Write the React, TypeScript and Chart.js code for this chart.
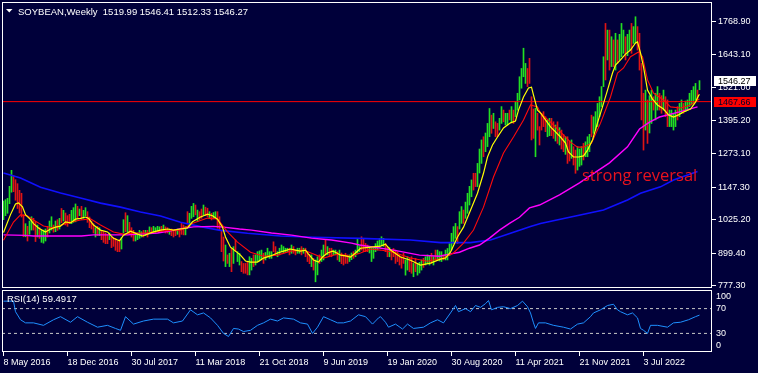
import React, { useEffect, useRef } from 'react';
import { Chart, registerables } from 'chart.js';

Chart.register(...registerables);

// ---------- DATA ----------
const symbolTitle = 'SOYBEAN,Weekly';
const lastOhlc = [1519.99, 1546.41, 1512.33, 1546.27];
const levelPrice = 1467.66;
const lastPrice = 1546.27;
const rsiLastValue = 59.4917;

const priceTicks = [1768.9, 1643.1, 1521.0, 1395.2, 1273.1, 1147.3, 1025.2, 899.4, 777.3];
const dateTickWeeks = [0, 32, 64, 96, 128, 160, 192, 224, 256, 288, 320];
const dateLabels = ['8 May 2016', '18 Dec 2016', '30 Jul 2017', '11 Mar 2018', '21 Oct 2018', '9 Jun 2019',
  '19 Jan 2020', '30 Aug 2020', '11 Apr 2021', '21 Nov 2021', '3 Jul 2022'];
const rsiLabelSpots = [90, 70, 30, 10];
const rsiTickLabels = ['100', '70', '30', '0'];
const rsiLevels = [70, 30];

// weekly bar lows / highs (one per week, 349 weeks)
const barLows = [
  1025, 1040, 1049, 1085, 1128, 1130, 1098, 1067, 1050, 1035,
  961, 961, 945, 970, 986, 986, 943, 960, 955, 940,
  937, 945, 960, 975, 986, 978, 980, 985, 990, 1014,
  1020, 1005, 1000, 1010, 1010, 1015, 1017, 1030, 1040, 1025,
  1030, 1040, 1015, 995, 990, 975, 960, 965, 965, 950,
  940, 935, 935, 950, 920, 925, 910, 905, 905, 915,
  975, 980, 980, 970, 960, 945, 945, 950, 955, 960,
  960, 965, 960, 972, 975, 975, 975, 980, 980, 978,
  985, 975, 975, 970, 965, 960, 965, 970, 960,
  970, 968, 968, 1011, 999, 1030, 1036, 1043, 1018, 1024,
  1030, 1043, 1040, 1036, 1030, 1024, 1028, 1030, 993, 986,
  905, 870, 849, 861, 849, 830, 861, 905, 868, 855,
  830, 824, 824, 818, 818, 836, 849, 855, 868, 870,
  874, 861, 874, 886, 880, 880, 905, 893, 886, 893,
  905, 899, 905, 905, 893, 899, 899, 893, 899, 899,
  893, 899, 886, 868, 860, 849, 836, 792, 818, 861,
  868, 874, 893, 893, 886, 886, 893, 893, 874, 868,
  860, 855, 861, 861, 868, 875, 880, 886, 899, 905,
  911, 905, 905, 905, 900, 868, 880, 905, 911, 920,
  930, 925, 905, 886, 886, 874, 886, 861, 868, 855,
  843, 861, 817, 836, 830, 824, 811, 830, 817, 825,
  836, 846, 855, 861, 855, 861, 855, 874, 874, 870,
  868, 874, 874, 874, 890, 911, 936, 955, 936, 990,
  1011, 1011, 1030, 1049, 1080, 1111, 1136, 1149, 1149, 1200,
  1236, 1261, 1280, 1299, 1336, 1349, 1367, 1336, 1336, 1361,
  1386, 1392, 1380, 1380, 1399, 1392, 1386, 1411, 1436, 1474,
  1518, 1561, 1536, 1524, 1536, 1324, 1330, 1261, 1361, 1305,
  1361, 1374, 1355, 1336, 1340, 1340, 1330, 1320, 1311, 1305,
  1290, 1280, 1270, 1236, 1245, 1255, 1230, 1199, 1211, 1225,
  1230, 1249, 1261, 1261, 1280, 1336, 1349, 1360, 1374, 1411,
  1449, 1524, 1549, 1624, 1586, 1599, 1599, 1586, 1611, 1624,
  1636, 1649, 1624, 1640, 1661, 1649, 1686, 1686, 1661, 1586,
  1399, 1286, 1361, 1311, 1350, 1386, 1436, 1399, 1436, 1436,
  1424, 1436, 1411, 1374, 1374, 1374, 1361, 1374, 1399, 1411,
  1424, 1424, 1430, 1436, 1449, 1455, 1461, 1474, 1474, 1512.33,
];
const barHighs = [
  1095, 1100, 1105, 1150, 1210, 1190, 1175, 1160, 1135, 1124,
  1044, 1010, 1000, 1020, 1036, 1030, 1017, 1005, 995, 985,
  986, 990, 1000, 1020, 1036, 1005, 1020, 1025, 1030, 1067,
  1060, 1050, 1040, 1045, 1060, 1070, 1084, 1075, 1065, 1075,
  1060, 1070, 1055, 1035, 1020, 1010, 995, 1000, 995, 985,
  980, 975, 970, 975, 960, 958, 955, 945, 950, 958,
  1025, 1051, 1040, 1015, 995, 985, 975, 975, 985, 980,
  985, 985, 985, 998, 995, 1000, 995, 1000, 998, 1000,
  1005, 998, 995, 990, 990, 985, 988, 990, 985,
  1011, 1005, 999, 1055, 1049, 1075, 1086, 1080, 1061, 1055,
  1065, 1080, 1072, 1068, 1055, 1049, 1052, 1055, 1055, 1036,
  986, 960, 930, 893, 899, 918, 924, 949, 905, 899,
  868, 861, 861, 868, 886, 880, 893, 893, 905, 908,
  911, 899, 902, 918, 905, 905, 942, 924, 905, 918,
  930, 924, 918, 918, 918, 930, 924, 911, 918, 918,
  924, 918, 918, 905, 895, 893, 880, 874, 886, 893,
  911, 930, 949, 924, 918, 918, 911, 911, 905, 911,
  900, 893, 899, 893, 893, 900, 905, 911, 955, 924,
  961, 955, 936, 930, 925, 918, 918, 935, 945, 955,
  961, 955, 936, 924, 920, 911, 917, 911, 905, 895,
  886, 899, 874, 886, 880, 886, 861, 880, 861, 865,
  874, 880, 886, 893, 890, 899, 886, 911, 911, 905,
  905, 893, 911, 917, 935, 974, 999, 1011, 999, 1055,
  1074, 1061, 1091, 1124, 1150, 1174, 1199, 1199, 1236, 1290,
  1324, 1336, 1350, 1386, 1442, 1417, 1424, 1392, 1386, 1405,
  1449, 1436, 1424, 1424, 1436, 1449, 1436, 1467, 1499, 1561,
  1592, 1668, 1611, 1592, 1630, 1486, 1440, 1443, 1424, 1374,
  1424, 1430, 1411, 1399, 1405, 1405, 1392, 1380, 1392, 1370,
  1361, 1345, 1336, 1336, 1320, 1324, 1299, 1286, 1299, 1290,
  1299, 1311, 1317, 1336, 1345, 1417, 1411, 1430, 1461, 1486,
  1524, 1636, 1761, 1736, 1736, 1711, 1699, 1724, 1699, 1720,
  1761, 1736, 1711, 1720, 1736, 1761, 1749, 1786, 1749, 1724,
  1611, 1499, 1511, 1474, 1490, 1511, 1486, 1499, 1524, 1499,
  1490, 1511, 1486, 1474, 1436, 1436, 1424, 1436, 1449, 1461,
  1474, 1461, 1470, 1474, 1499, 1510, 1524, 1536, 1511, 1546.41,
];
// u = up week (close above open), d = down week
const barDirections = [
  'uuuuuddddd', 'duduuddudu', 'uuduududud', 'uddduuudud', 'uuddddudud',
  'dddudddddu', 'ududdduuuu', 'dududuuuud', 'uddudddud',
  'dduduuudud', 'dudduduudd', 'ddudududuu', 'dddduuduuu', 'uduuuudduu',
  'uuuududduu', 'duddduduud', 'uududduudu', 'dddduuduuu',
  'dddduuuuuu', 'uudduddddd', 'dduudduduu', 'uduuududuu', 'uduuuuuudu',
  'uduuuudduu', 'uduuududdu', 'uduududuuu', 'uuuddddudd',
  'ddduuddudu', 'dduddudduu', 'uduuuduuuu', 'uududududu', 'uuduuduudd',
  'dduduuduud', 'dudduuuudu', 'uduuuuuudu',
];

// moving averages: [week, price]
const fastMaPoints = [
  [0, 977], [3.5, 1044], [6, 1084], [7.5, 1088], [9.5, 1073], [11, 1044], [13.5, 1025], [15, 1010],
  [17.5, 994], [21, 979], [23.5, 990], [26, 997], [28.5, 1001], [31, 1017], [33.5, 1013], [36, 1027],
  [38.5, 1030], [41, 1035], [42.5, 1030], [45, 1005], [48.5, 986], [52, 979], [55, 955], [58, 946],
  [60, 967], [63.5, 982], [67, 971], [69.5, 964], [72, 971], [75, 979], [78.5, 986], [82, 990],
  [85, 986], [88.5, 990], [92, 994], [94.5, 1017], [98.5, 1035], [102, 1046], [104.5, 1040], [107, 1027],
  [109.5, 997], [111, 960], [113.5, 922], [116, 907], [118.5, 892], [121, 870], [123.5, 866], [127, 866],
  [130, 881], [133.5, 889], [137, 900], [140, 907], [143.5, 915], [146, 911], [148.5, 907], [151, 911],
  [152.5, 896], [155, 874], [157.5, 866], [159.5, 885], [162, 900], [164.5, 907], [166, 903], [168.5, 892],
  [171, 889], [173.5, 885], [176, 900], [178.5, 918], [183.5, 922], [188.5, 926], [191, 933], [193.5, 911],
  [198.5, 885], [203.5, 873], [208.5, 855], [213.5, 862], [218.5, 877], [221, 881], [223.5, 903], [227, 960],
  [230, 997], [233.5, 1060], [237, 1124], [240, 1199], [242, 1260], [244.5, 1305], [247, 1335], [250, 1369],
  [253.5, 1388], [256, 1395], [257.5, 1436], [260, 1485], [262.5, 1519], [264, 1522], [265, 1492], [267, 1436],
  [268.5, 1425], [271, 1399], [273.5, 1373], [276, 1354], [278.5, 1335], [281, 1312], [282.5, 1279], [285, 1260],
  [287.5, 1260], [290, 1264], [292, 1286], [294.5, 1324], [297, 1388], [299.5, 1448], [302, 1511], [304.5, 1575],
  [306, 1605], [308.5, 1624], [311, 1646], [313.5, 1661], [316, 1688], [317, 1692], [318.5, 1650], [320, 1598],
  [322, 1511], [324.5, 1477], [327, 1455], [330, 1440], [332.5, 1418], [335, 1410], [337.5, 1418], [340, 1429],
  [343.5, 1440], [346, 1466], [347.5, 1490], [348, 1495],
];
const slowMaPoints = [
  [0, 948], [5, 1016], [8.5, 1043], [12, 1039], [15, 1024], [20, 1001], [25, 994], [32, 1013],
  [38.5, 1024], [43.5, 1028], [48.5, 1005], [55, 979], [60, 971], [65, 975], [72, 975], [78.5, 982],
  [85, 986], [88.5, 986], [95, 1013], [102, 1031], [107, 1028], [112, 979], [117, 941], [123.5, 903],
  [130, 888], [137, 892], [143.5, 907], [150, 911], [155, 896], [160, 881], [167, 896], [173.5, 888],
  [178.5, 900], [183.5, 915], [188.5, 911], [195, 903], [203.5, 881], [212, 869], [220, 881], [225, 900],
  [230, 937], [235, 986], [240, 1072], [245, 1185], [250, 1275], [255, 1335], [260, 1399], [263.5, 1455],
  [267, 1448], [268.5, 1425], [273.5, 1391], [278.5, 1354], [283.5, 1316], [287, 1297], [290, 1297], [294, 1312],
  [298.5, 1387], [303.5, 1485], [307, 1575], [310, 1594], [313.5, 1636], [317.5, 1654], [319.5, 1636], [322, 1549],
  [325, 1500], [330, 1474], [333.5, 1448], [338.5, 1444], [343.5, 1455], [348, 1478],
];
const mediumMaPoints = [
  [0, 968], [11, 966], [15, 964], [39, 964], [45, 968], [62, 968], [68, 971], [77, 975],
  [83, 982], [88, 990], [95, 998], [105, 1000], [110, 997], [118, 990], [124, 986], [134, 975],
  [144, 967], [154, 956], [164, 949], [174, 937], [178, 930], [195, 911], [208, 892], [218, 888],
  [223, 896], [228, 903], [233, 918], [238, 930], [243, 956], [248, 986], [253, 1011], [258, 1034],
  [263, 1069], [268, 1080], [278, 1118], [288, 1163], [303, 1238], [312, 1298], [318, 1365], [323, 1391],
  [328, 1410], [338, 1429], [347, 1448],
];
const longMaPoints = [
  [0, 1200], [8.5, 1181], [18.5, 1147], [28.5, 1125], [38.5, 1106], [48.5, 1087], [58.5, 1072], [68.5, 1054],
  [78.5, 1039], [88.5, 1015], [98.5, 999], [108.5, 985], [122, 974], [138.5, 964], [155, 959], [178.5, 955],
  [203.5, 949], [218.5, 939], [233.5, 939], [243.5, 949], [253.5, 974], [263.5, 999], [268.5, 1011], [300, 1061],
  [312, 1099], [318.5, 1124], [328.5, 1148], [335, 1174], [347, 1206],
];
const rsiPoints = [
  [0, 82], [5, 82], [6, 65], [8.5, 52], [11, 47], [15, 47], [20, 43], [25, 52], [28.5, 57], [33.5, 48],
  [37, 57], [42, 48], [47, 40], [52, 43], [56, 38], [58.5, 35], [61, 57], [65, 45], [70, 50], [75, 53],
  [82, 53], [85, 47], [89.5, 50], [93.5, 68], [97, 60], [100, 63], [103.5, 55], [107, 43], [110, 30], [112.5, 25],
  [115, 38], [117.5, 37], [120, 33], [123.5, 35], [127, 43], [130, 47], [133.5, 53], [137, 50], [140, 55], [145, 53],
  [148.5, 47], [152, 45], [154.5, 30], [157, 40], [160, 57], [163.5, 52], [167, 47], [170, 47], [173.5, 50], [177.5, 60],
  [181, 57], [184.5, 45], [187.5, 55], [188.5, 57], [191, 48], [192.5, 40], [196, 45], [199.5, 37], [202, 45], [205, 38],
  [210, 40], [213.5, 47], [217, 52], [220, 47], [223.5, 63], [226, 75], [227.5, 65], [231, 70], [233.5, 65], [236, 75],
  [238.5, 72], [241, 78], [242.5, 83], [244, 68], [247, 72], [250, 73], [253.5, 70], [257, 75], [259.5, 82], [262, 73],
  [263.5, 63], [265, 47], [266, 38], [267.5, 47], [271, 47], [275, 43], [280, 40], [283.5, 37], [287, 45], [290, 47],
  [293.5, 57], [295, 63], [298.5, 68], [302, 75], [305, 77], [307, 68], [308.5, 65], [312, 60], [314.5, 63], [317, 55],
  [318.5, 38], [320, 35], [322, 30], [323.5, 43], [327, 43], [332, 40], [335, 47], [338.5, 48], [342.5, 52], [346, 57],
  [348, 59.49],
];

// ---------- STYLE ----------
const BG = '#00003a';
const FONT = 'Liberation Sans, Arial, sans-serif';
const UP = '#22e022';
const DOWN = '#e01414';

export default function App() {
  const mainRef = useRef<HTMLCanvasElement>(null);
  const rsiRef = useRef<HTMLCanvasElement>(null);

  useEffect(() => {
    const xMin = -0.75;
    const xMax = 354.25;
    const toXY = (pts: number[][]) => pts.map(([x, y]) => ({ x, y }));
    const dirs = barDirections.join('');
    const bars = barLows.map((lo, i) => ({ x: i, y: [lo, barHighs[i]] }));
    const barColors = barLows.map((_, i) => (dirs[i] === 'd' ? DOWN : UP));

    const bgPlugin = {
      id: 'bg',
      beforeDraw(chart: any) {
        const { ctx, width, height } = chart;
        ctx.save();
        ctx.fillStyle = BG;
        ctx.fillRect(0, 0, width, height);
        ctx.restore();
      },
      afterDraw(chart: any) {
        const { ctx, chartArea: a } = chart;
        ctx.save();
        ctx.strokeStyle = '#ffffff';
        ctx.lineWidth = 1;
        ctx.strokeRect(a.left + 0.5, a.top + 0.5, a.right - a.left - 1, a.bottom - a.top - 1);
        ctx.restore();
      },
    };

    const mainText = {
      id: 'mainText',
      afterDraw(chart: any) {
        const { ctx } = chart;
        const y = chart.scales.y;
        ctx.save();
        ctx.fillStyle = '#ffffff';
        ctx.beginPath();
        ctx.moveTo(6, 9);
        ctx.lineTo(12.5, 9);
        ctx.lineTo(9.25, 12.5);
        ctx.closePath();
        ctx.fill();
        ctx.font = `9.5px ${FONT}`;
        ctx.textBaseline = 'alphabetic';
        ctx.textAlign = 'left';
        ctx.fillText(`${symbolTitle}  ${lastOhlc.map((v) => v.toFixed(2)).join(' ')}`, 18, 14.5);
        ctx.fillStyle = '#e8121e';
        ctx.font = `16.5px "Open Sans", ${FONT}`;
        ctx.fillText('strong reversal', 582, 181);
        const boxes: [number, string, string][] = [
          [lastPrice, '#ffffff', '#000000'],
          [levelPrice, '#ff0000', '#00002a'],
        ];
        ctx.font = `9px ${FONT}`;
        ctx.textBaseline = 'middle';
        for (const [v, bg, fg] of boxes) {
          const py = y.getPixelForValue(v);
          ctx.fillStyle = bg;
          ctx.fillRect(714, Math.round(py - 5), 42, 10);
          ctx.fillStyle = fg;
          ctx.fillText(v.toFixed(2), 718, Math.round(py - 5) + 5.5);
        }
        ctx.restore();
      },
    };

    const rsiText = {
      id: 'rsiText',
      afterDraw(chart: any) {
        const { ctx } = chart;
        ctx.save();
        ctx.fillStyle = '#ffffff';
        ctx.font = `9.5px ${FONT}`;
        ctx.textBaseline = 'alphabetic';
        ctx.textAlign = 'left';
        ctx.fillText(`RSI(14) ${rsiLastValue.toFixed(4)}`, 7, 13);
        ctx.restore();
      },
    };

    const lineDs = (label: string, pts: number[][], color: string, width: number, order: number) => ({
      type: 'line' as const,
      label,
      data: toXY(pts),
      borderColor: color,
      borderWidth: width,
      pointRadius: 0,
      tension: 0,
      fill: false,
      order,
    });

    const main = new Chart(mainRef.current!, {
      type: 'bar',
      data: {
        datasets: [
          lineDs('fast MA', fastMaPoints, '#ffff00', 1.2, 1),
          lineDs('slow MA', slowMaPoints, '#ff0a0a', 1.1, 2),
          lineDs('medium MA', mediumMaPoints, '#ff00ff', 1.4, 3),
          lineDs('long MA', longMaPoints, '#1010ff', 1.6, 4),
          lineDs('level', [[xMin, levelPrice], [xMax, levelPrice]], '#ff0000', 1, 5),
          {
            type: 'bar',
            label: 'weekly range',
            data: bars as any,
            backgroundColor: barColors,
            borderWidth: 0,
            barThickness: 1,
            order: 6,
          },
        ] as any,
      },
      options: {
        responsive: false,
        animation: false,
        devicePixelRatio: 1,
        events: [],
        layout: { padding: { left: 2, top: 2, right: 0, bottom: 1 } },
        plugins: { legend: { display: false }, tooltip: { enabled: false } },
        scales: {
          x: { type: 'linear', min: xMin, max: xMax, offset: false, display: false },
          y: {
            type: 'linear',
            position: 'right',
            min: 768.8,
            max: 1841.3,
            afterBuildTicks: (axis: any) => {
              axis.ticks = priceTicks.map((v) => ({ value: v }));
            },
            afterFit: (axis: any) => {
              axis.width = 46;
              axis.paddingTop = 0;
              axis.paddingBottom = 0;
            },
            ticks: {
              color: '#ffffff',
              font: { size: 9, family: FONT },
              padding: 2,
              autoSkip: false,
              callback: (v: any) => Number(v).toFixed(2),
            },
            grid: { drawOnChartArea: false, drawTicks: true, tickLength: 4, color: '#ffffff' },
            border: { display: false },
          },
        },
      } as any,
      plugins: [bgPlugin, mainText],
    });

    const rsi = new Chart(rsiRef.current!, {
      type: 'line',
      data: {
        datasets: [
          lineDs('RSI(14)', rsiPoints, '#1e90ff', 1, 1),
          ...rsiLevels.map((lv, k) => ({
            ...lineDs(`level ${lv}`, [[xMin, lv], [xMax, lv]], '#c8c8c8', 1, 2 + k),
            borderDash: [3, 3],
          })),
        ] as any,
      },
      options: {
        responsive: false,
        animation: false,
        devicePixelRatio: 1,
        events: [],
        layout: { padding: { left: 2, top: 1, right: 0, bottom: 0 } },
        plugins: { legend: { display: false }, tooltip: { enabled: false } },
        scales: {
          x: {
            type: 'linear',
            min: xMin,
            max: xMax,
            offset: false,
            afterBuildTicks: (axis: any) => {
              axis.ticks = dateTickWeeks.map((v) => ({ value: v }));
            },
            afterFit: (axis: any) => {
              axis.height = 21;
              axis.paddingLeft = 0;
              axis.paddingRight = 0;
            },
            ticks: {
              color: '#ffffff',
              font: { size: 9, family: FONT },
              align: 'start',
              autoSkip: false,
              maxRotation: 0,
              padding: 1,
              callback: (_v: any, i: number) => dateLabels[i],
            },
            grid: { drawOnChartArea: false, drawTicks: true, tickLength: 4, color: '#ffffff' },
            border: { display: false },
          },
          y: {
            type: 'linear',
            position: 'right',
            min: 0,
            max: 100,
            afterBuildTicks: (axis: any) => {
              axis.ticks = rsiLabelSpots.map((v) => ({ value: v }));
            },
            afterFit: (axis: any) => {
              axis.width = 46;
              axis.paddingTop = 0;
              axis.paddingBottom = 0;
            },
            ticks: {
              color: '#ffffff',
              font: { size: 9, family: FONT },
              padding: 4,
              autoSkip: false,
              callback: (_v: any, i: number) => rsiTickLabels[i],
            },
            grid: { drawOnChartArea: false, drawTicks: false },
            border: { display: false },
          },
        },
      } as any,
      plugins: [bgPlugin, rsiText],
    });

    return () => {
      main.destroy();
      rsi.destroy();
    };
  }, []);

  return (
    <div style={{ position: 'absolute', left: 0, top: 0, width: 758, height: 373, background: BG, overflow: 'hidden' }}>
      <canvas ref={mainRef} width={758} height={289} style={{ position: 'absolute', left: 0, top: 0, display: 'block' }} />
      <canvas ref={rsiRef} width={758} height={84} style={{ position: 'absolute', left: 0, top: 289, display: 'block' }} />
    </div>
  );
}
